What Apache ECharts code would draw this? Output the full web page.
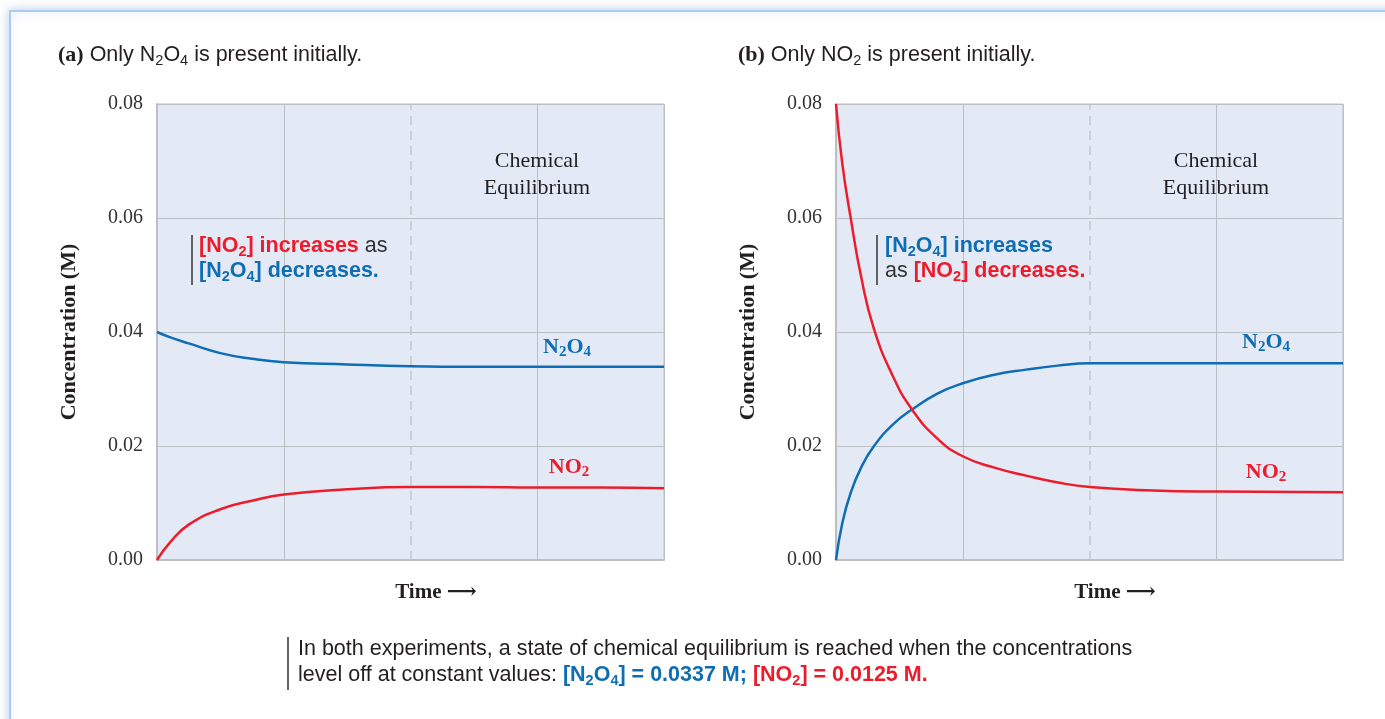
<!DOCTYPE html>
<html>
<head>
<meta charset="utf-8">
<script src="https://cdn.jsdelivr.net/npm/echarts@6/dist/echarts.min.js"></script>
<style>
html, body { margin: 0; padding: 0; background: #fff; }
#chart { width: 1385px; height: 719px; }
</style>
</head>
<body>
<div id="chart"></div>
<script>
// values (time in arbitrary units, concentration in M)
var timeA = [0, 0.1, 0.25, 0.5, 0.75, 1, 1.5, 2, 2.5, 3, 3.5, 4];
var n2o4A = [0.0400, 0.0391, 0.0380, 0.0363, 0.0353, 0.0347, 0.0343, 0.0340, 0.0339, 0.0339, 0.0339, 0.0339];
var no2A = [0, 0.0030, 0.0062, 0.0089, 0.0104, 0.0115, 0.0124, 0.0128, 0.0128, 0.0127, 0.0127, 0.0126];

var timeB = [0, 0.05, 0.116, 0.2, 0.3, 0.45, 0.6, 0.8, 1, 1.25, 1.5, 1.75, 2, 2.5, 3, 4];
var no2B = [0.0800, 0.0695, 0.0600, 0.0495, 0.0405, 0.0322, 0.0264, 0.0213, 0.0182, 0.0162, 0.0148, 0.0136, 0.0128, 0.0122, 0.0120, 0.0119];
var n2o4B = [0, 0.0065, 0.0118, 0.0163, 0.0200, 0.0238, 0.0264, 0.0292, 0.0310, 0.0325, 0.0334, 0.0341, 0.0345, 0.0345, 0.0345, 0.0345];

var BLUE = '#0f6db4';
var RED = '#ec1c2d';
var INK = '#231f20';
var GRID = '#bcbfc4';
var sans = '"Liberation Sans", Arial, sans-serif';
var serif = '"Liberation Serif", "DejaVu Serif", serif';

function pairs(xs, ys) {
  return xs.map(function (x, i) { return [x, ys[i]]; });
}

var chart = echarts.init(document.getElementById('chart'));

function xAxisFor(idx) {
  return {
    gridIndex: idx, type: 'value', min: 0, max: 4, interval: 1,
    axisLabel: { show: false }, axisTick: { show: false },
    axisLine: { show: true, lineStyle: { color: GRID, width: 2 } },
    splitLine: { show: true, lineStyle: { color: [GRID, GRID, 'rgba(0,0,0,0)', GRID, GRID], width: 1 } }
  };
}

function yAxisFor(idx) {
  return {
    gridIndex: idx, type: 'value', min: 0, max: 0.08, interval: 0.02,
    name: 'Concentration (M)', nameLocation: 'middle', nameGap: 77,
    nameTextStyle: { fontFamily: serif, fontWeight: 'bold', fontSize: 22, color: INK },
    axisLabel: {
      margin: 14, fontFamily: serif, fontSize: 20, color: '#333',
      formatter: function (v) { return v.toFixed(2); }
    },
    axisTick: { show: false },
    axisLine: { show: true, lineStyle: { color: GRID, width: 2 } },
    splitLine: { show: true, lineStyle: { color: GRID, width: 1 } }
  };
}

function lineSeries(idx, data, color, dashed) {
  var s = {
    type: 'line', xAxisIndex: idx, yAxisIndex: idx, data: data,
    smooth: 0.5, showSymbol: false, silent: true,
    lineStyle: { color: color, width: 2.5 }, z: 5
  };
  if (dashed) {
    s.markLine = {
      silent: true, symbol: 'none', label: { show: false },
      lineStyle: { color: '#c3c6cb', type: [9, 6], width: 1.5 },
      data: [{ xAxis: 2 }]
    };
  }
  return s;
}

function makeRich(lh) {
  var FS = 21.5, SS = 14.5;
  return {
    r: { fontFamily: sans, fontSize: FS, fill: '#333', lineHeight: lh },
    rb: { fontFamily: sans, fontSize: FS, fontWeight: 'bold', fill: RED, lineHeight: lh },
    rs: { fontFamily: sans, fontSize: SS, fontWeight: 'bold', fill: RED, lineHeight: lh, padding: [11, 0, 0, 0] },
    bb: { fontFamily: sans, fontSize: FS, fontWeight: 'bold', fill: BLUE, lineHeight: lh },
    bs: { fontFamily: sans, fontSize: SS, fontWeight: 'bold', fill: BLUE, lineHeight: lh, padding: [11, 0, 0, 0] },
    k: { fontFamily: sans, fontSize: FS, fill: INK, lineHeight: lh },
    ks: { fontFamily: sans, fontSize: SS, fill: INK, lineHeight: lh, padding: [11, 0, 0, 0] },
    tb: { fontFamily: serif, fontSize: 22, fontWeight: 'bold', fill: INK, lineHeight: lh }
  };
}
var subRich = makeRich(25);
var capRich = makeRich(26);

function serifRich(color) {
  return {
    m: { fontFamily: serif, fontSize: 22, fontWeight: 'bold', fill: color, lineHeight: 24 },
    s: { fontFamily: serif, fontSize: 15, fontWeight: 'bold', fill: color, lineHeight: 24, padding: [11, 0, 0, 0] }
  };
}

function txt(x, y, text, rich, align) {
  return {
    type: 'text', x: x, y: y, z: 20, silent: true,
    style: { text: text, rich: rich, align: align || 'left', verticalAlign: 'middle' }
  };
}

function plain(x, y, text, font, color, lh) {
  return {
    type: 'text', x: x, y: y, z: 20, silent: true,
    style: { text: text, font: font, fill: color, align: 'center', verticalAlign: 'middle', lineHeight: lh || 27 }
  };
}

function bar(x, y1, y2) {
  return { type: 'line', z: 20, silent: true, shape: { x1: x, y1: y1, x2: x, y2: y2 }, style: { stroke: '#333', lineWidth: 1.5 } };
}

var graphics = [
  // page frame with soft shadow
  {
    type: 'rect', z: -10, silent: true,
    shape: { x: 10, y: 11, width: 1420, height: 760 },
    style: { fill: '#fff', stroke: '#a8cdf0', lineWidth: 2, shadowColor: 'rgba(140,170,210,0.55)', shadowBlur: 10 }
  },
  // panel titles
  txt(58, 55, '{tb|(a)}{k| Only N}{ks|2}{k|O}{ks|4}{k| is present initially.}', subRich),
  txt(738, 55, '{tb|(b)}{k| Only NO}{ks|2}{k| is present initially.}', subRich),
  // annotations in panel a
  bar(192, 235, 285),
  txt(199, 259, '{rb|[NO}{rs|2}{rb|] increases}{r| as}\n{bb|[N}{bs|2}{bb|O}{bs|4}{bb|] decreases.}', subRich),
  plain(537, 175, 'Chemical\nEquilibrium', '22px ' + serif, INK),
  txt(567, 347, '{m|N}{s|2}{m|O}{s|4}', serifRich(BLUE), 'center'),
  txt(569, 467, '{m|NO}{s|2}', serifRich(RED), 'center'),
  // annotations in panel b
  bar(877, 235, 285),
  txt(885, 259, '{bb|[N}{bs|2}{bb|O}{bs|4}{bb|] increases}\n{r|as }{rb|[NO}{rs|2}{rb|] decreases.}', subRich),
  plain(1216, 175, 'Chemical\nEquilibrium', '22px ' + serif, INK),
  txt(1266, 342, '{m|N}{s|2}{m|O}{s|4}', serifRich(BLUE), 'center'),
  txt(1266, 472, '{m|NO}{s|2}', serifRich(RED), 'center'),
  // time labels
  plain(436, 593, 'Time \u27F6', 'bold 21px ' + serif, INK),
  plain(1115, 593, 'Time \u27F6', 'bold 21px ' + serif, INK),
  // caption
  bar(288, 637, 690),
  txt(298, 662, '{k|In both experiments, a state of chemical equilibrium is reached when the concentrations}\n' +
    '{k|level off at constant values: }{bb|[N}{bs|2}{bb|O}{bs|4}{bb|] = 0.0337 M; }{rb|[NO}{rs|2}{rb|] = 0.0125 M.}', capRich)
];

var option = {
  backgroundColor: '#fff',
  animation: false,
  grid: [
    { left: 157, top: 104, width: 507, height: 456, show: true, backgroundColor: '#e3eaf6', borderColor: GRID, borderWidth: 1 },
    { left: 836, top: 104, width: 507, height: 456, show: true, backgroundColor: '#e3eaf6', borderColor: GRID, borderWidth: 1 }
  ],
  xAxis: [xAxisFor(0), xAxisFor(1)],
  yAxis: [yAxisFor(0), yAxisFor(1)],
  series: [
    lineSeries(0, pairs(timeA, n2o4A), BLUE, true),
    lineSeries(0, pairs(timeA, no2A), RED, false),
    lineSeries(1, pairs(timeB, n2o4B), BLUE, true),
    lineSeries(1, pairs(timeB, no2B), RED, false)
  ],
  graphic: graphics
};

chart.setOption(option);
</script>
</body>
</html>
